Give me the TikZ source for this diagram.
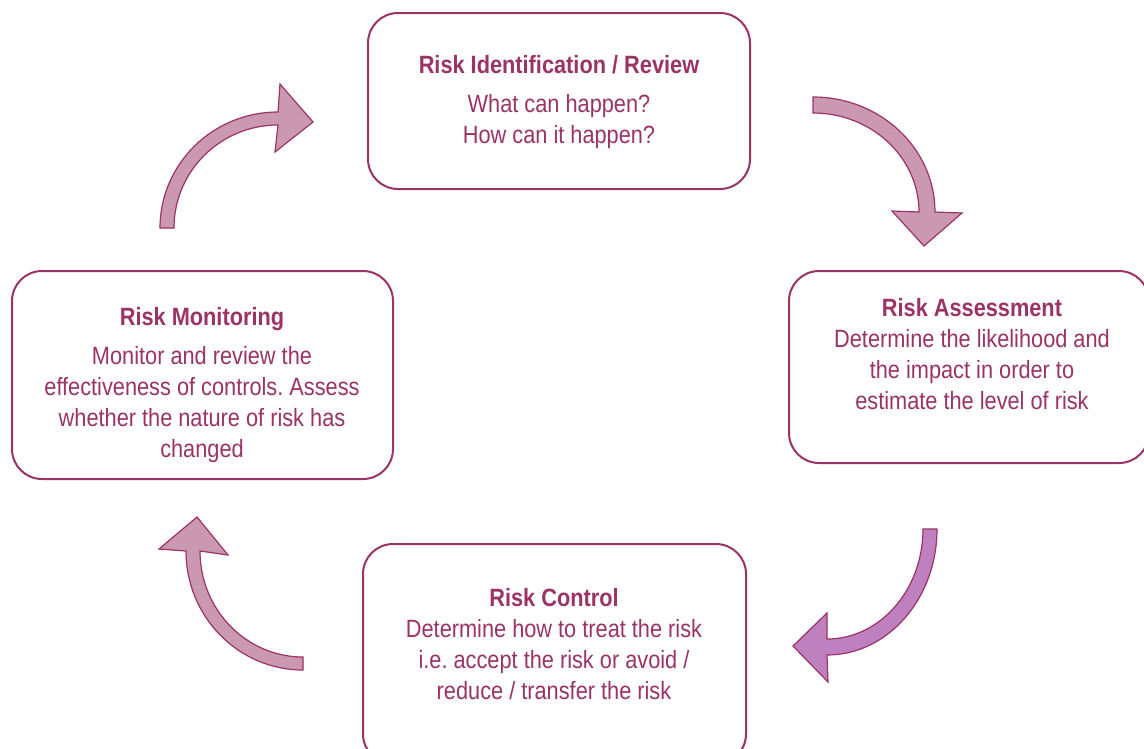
\documentclass[tikz,border=0pt]{standalone}
\usepackage{fontspec}
\setmainfont[FakeStretch=0.87]{Liberation Sans}
\frenchspacing
\definecolor{plum}{HTML}{9B3366}
\definecolor{arrowfill}{HTML}{CB98B2}
\definecolor{arrowfillb}{HTML}{BF80BF}
\tikzset{
  stagebox/.style={draw=plum, line width=2pt, rounded corners=30pt, fill=white, inner sep=0pt},
  stagetext/.style={text=plum, align=center, inner sep=0pt, anchor=north,
    font=\fontsize{25}{31}\selectfont},
  blockarrow/.style={draw=plum, line width=1.2pt, fill=arrowfill, line join=miter},
}
\begin{document}
\begin{tikzpicture}[x=1pt,y=-1pt]
\clip (0,0) rectangle (1144,748);
\fill[white] (0,0) rectangle (1144,748);
% boxes
\node[stagebox, minimum width=382pt, minimum height=176pt] (ident) at (559,101) {};
\node[stagebox, minimum width=360pt, minimum height=192pt] (assess) at (969,367) {};
\node[stagebox, minimum width=381pt, minimum height=208pt] (monit) at (202.5,375) {};
\node[stagebox, minimum width=383pt, minimum height=220pt] (control) at (554.5,654) {};
% texts
\node[stagetext] (identtxt) at (559,55) {\textbf{Risk Identification / Review}\\[8pt]What can happen?\\How can it happen?};
\node[stagetext] (assesstxt) at (972,298) {\textbf{Risk Assessment}\\Determine the likelihood and\\the impact in order to\\estimate the level of risk};
\node[stagetext] (monittxt) at (202,307) {\textbf{Risk Monitoring}\\[8pt]Monitor and review the\\effectiveness of controls. Assess\\whether the nature of risk has\\changed};
\node[stagetext] (controltxt) at (554,588) {\textbf{Risk Control}\\Determine how to treat the risk\\i.e. accept the risk or avoid /\\reduce / transfer the risk};
% arrows
\coordinate (a1) at (160,228);
\draw[blockarrow] (a1) arc[start angle=180, end angle=270, x radius=118, y radius=116]
  -- (280,84) -- (313,122) -- (275,152) -- (278,125)
  arc[start angle=270, end angle=180, x radius=104, y radius=103] -- cycle;
\coordinate (a2) at (813,97);
\draw[blockarrow] (a2) arc[start angle=270, end angle=360, x radius=122, y radius=115]
  -- (962,213) -- (924,246) -- (892,211) -- (919,212)
  arc[start angle=360, end angle=270, x radius=106, y radius=99] -- cycle;
\coordinate (a3) at (937,529);
\draw[blockarrow, fill=arrowfillb] (a3) arc[start angle=0, end angle=90, x radius=110, y radius=126]
  -- (828,682) -- (793,646) -- (827,613) -- (827,639)
  arc[start angle=90, end angle=0, x radius=96, y radius=110] -- cycle;
\coordinate (a4) at (186,551);
\draw[blockarrow] (a4) arc[start angle=180, end angle=90, x radius=117, y radius=119]
  -- (303,657)
  arc[start angle=90, end angle=180, x radius=103, y radius=106]
  -- (228,555) -- (197,517) -- (159,549) -- cycle;
\end{tikzpicture}
\end{document}
